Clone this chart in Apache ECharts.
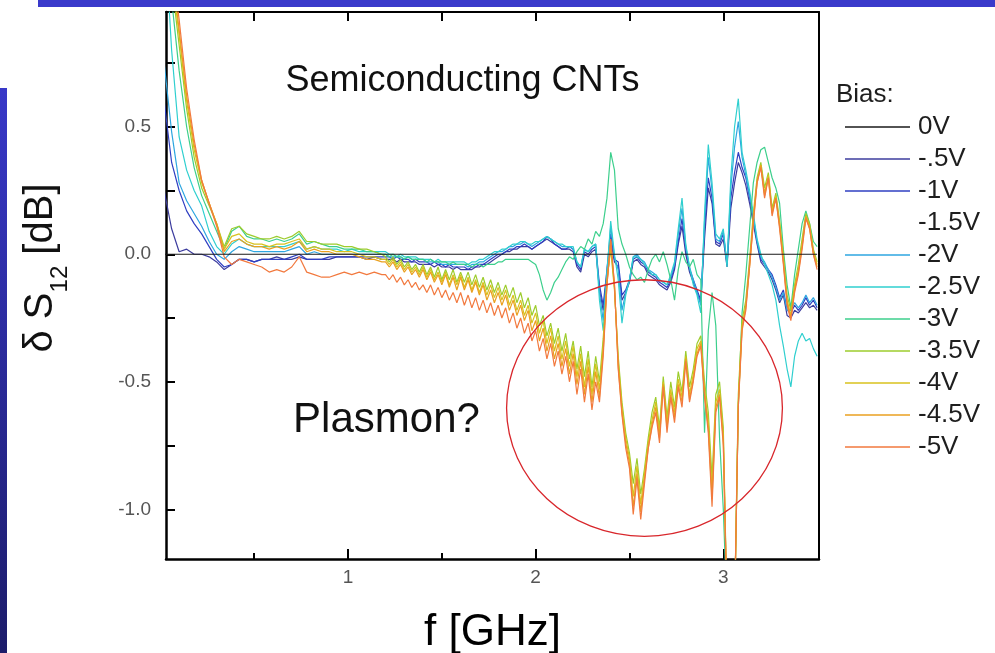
<!DOCTYPE html>
<html>
<head>
<meta charset="utf-8">
<script src="https://cdn.jsdelivr.net/npm/echarts@6/dist/echarts.min.js"></script>
<style>
  html, body { margin: 0; padding: 0; background: #ffffff; }
  #chart { width: 995px; height: 653px; }
</style>
</head>
<body>
<div id="chart"></div>
<script>
// Frequency grid in GHz: coarse below 1.2 GHz, finer above where the ripple is.
const freqLow = [0.02,0.06,0.10,0.14,0.18,0.22,0.26,0.30,0.34,0.38,0.42,0.46,0.50,0.54,0.58,
  0.62,0.66,0.70,0.74,0.78,0.82,0.86,0.90,0.94,0.98,1.02,1.06,1.10,1.14,1.18];
const freqHigh = [
  1.20,1.22,1.24,1.26,1.28,1.30,1.32,1.34,1.36,1.38,
  1.40,1.42,1.44,1.46,1.48,1.50,1.52,1.54,1.56,1.58,
  1.60,1.62,1.64,1.66,1.68,1.70,1.72,1.74,1.76,1.78,
  1.80,1.82,1.84,1.86,1.88,1.90,1.92,1.94,1.96,1.98,
  2.00,2.02,2.04,2.06,2.08,2.10,2.12,2.14,2.16,2.18,
  2.20,2.22,2.24,2.26,2.28,2.30,2.32,2.34,2.36,2.38,
  2.40,2.42,2.44,2.46,2.48,2.50,2.52,2.54,2.56,2.58,
  2.60,2.62,2.64,2.66,2.68,2.70,2.72,2.74,2.76,2.78,
  2.80,2.82,2.84,2.86,2.88,2.90,2.92,2.94,2.96,2.98,
  3.00,3.02,3.04,3.06,3.08,3.10,3.12,3.14,3.16,3.18,
  3.20,3.22,3.24,3.26,3.28,3.30,3.32,3.34,3.36,3.38,
  3.40,3.42,3.44,3.46,3.48,3.50];

// Reference bias: the difference is zero everywhere.
const freq0V = [0.02, 3.50];
const bias0V = [0, 0];

// delta S12 in dB for each gate bias (values on freqLow followed by freqHigh).
const biasM05 = [
  0.25,0.10,0.01,0.02,0.00,0.00,-0.01,-0.03,-0.06,-0.04,
  -0.02,-0.02,-0.03,-0.02,-0.02,-0.01,-0.02,-0.02,-0.01,-0.02,
  -0.02,-0.02,-0.02,-0.01,-0.01,-0.01,-0.01,-0.02,-0.01,-0.02,
  -0.02,-0.02,-0.02,-0.03,-0.02,-0.03,-0.03,-0.03,-0.03,-0.04,
  -0.04,-0.04,-0.04,-0.05,-0.04,-0.05,-0.05,-0.05,-0.06,-0.05,
  -0.06,-0.06,-0.06,-0.06,-0.05,-0.05,-0.04,-0.04,-0.03,-0.02,
  -0.01,0.00,0.01,0.01,0.02,0.02,0.03,0.03,0.03,0.02,
  0.03,0.04,0.05,0.06,0.05,0.04,0.03,0.02,0.02,0.02,
  0.01,-0.05,-0.07,0.00,-0.01,0.01,0.02,-0.14,-0.22,-0.08,
  0.05,-0.03,-0.05,-0.18,-0.15,-0.11,-0.03,-0.02,-0.04,-0.05,
  -0.08,-0.09,-0.10,-0.12,-0.13,-0.14,-0.11,-0.06,0.04,0.11,
  0.00,-0.07,-0.11,-0.15,-0.19,0.06,0.26,0.20,0.04,0.03,
  0.06,-0.05,0.18,0.28,0.36,0.32,0.27,0.20,0.12,0.04,
  -0.03,-0.05,-0.07,-0.10,-0.14,-0.19,-0.16,-0.24,-0.25,-0.22,
  -0.23,-0.21,-0.19,-0.21,-0.20,-0.22];

const biasM1 = [
  0.60,0.36,0.25,0.17,0.12,0.08,0.03,-0.02,-0.05,-0.04,
  -0.02,-0.02,-0.03,-0.02,-0.02,-0.02,-0.02,-0.01,0.00,-0.02,
  -0.02,-0.02,-0.01,-0.01,-0.01,-0.01,-0.01,-0.01,-0.01,-0.01,
  -0.01,-0.01,-0.02,-0.01,-0.02,-0.02,-0.02,-0.03,-0.02,-0.03,
  -0.03,-0.03,-0.04,-0.03,-0.04,-0.04,-0.05,-0.04,-0.05,-0.05,
  -0.05,-0.05,-0.06,-0.05,-0.05,-0.04,-0.04,-0.03,-0.02,-0.01,
  0.00,0.00,0.01,0.02,0.02,0.03,0.03,0.04,0.03,0.02,
  0.03,0.04,0.05,0.07,0.06,0.04,0.03,0.02,0.02,0.03,
  0.02,-0.04,-0.06,0.01,0.00,0.02,0.03,-0.12,-0.20,-0.06,
  0.08,-0.02,-0.03,-0.16,-0.14,-0.10,-0.02,-0.01,-0.03,-0.04,
  -0.07,-0.08,-0.09,-0.11,-0.12,-0.13,-0.10,-0.05,0.05,0.14,
  0.02,-0.06,-0.10,-0.14,-0.18,0.10,0.30,0.22,0.05,0.04,
  0.08,-0.04,0.22,0.32,0.40,0.34,0.30,0.22,0.14,0.05,
  -0.02,-0.04,-0.06,-0.08,-0.12,-0.17,-0.14,-0.22,-0.23,-0.20,
  -0.22,-0.20,-0.17,-0.20,-0.18,-0.21];

const biasM2 = [
  0.75,0.48,0.28,0.21,0.16,0.11,0.05,0.00,-0.02,0.01,
  0.03,0.02,0.01,0.01,0.01,0.01,0.01,0.02,0.03,0.00,
  0.01,0.00,0.00,0.00,0.00,0.00,0.00,0.00,0.00,0.00,
  0.00,-0.01,-0.01,-0.01,-0.01,-0.02,-0.01,-0.02,-0.02,-0.02,
  -0.02,-0.03,-0.03,-0.03,-0.03,-0.04,-0.04,-0.04,-0.04,-0.04,
  -0.04,-0.04,-0.05,-0.04,-0.04,-0.03,-0.03,-0.02,-0.01,0.00,
  0.01,0.01,0.02,0.03,0.03,0.04,0.04,0.05,0.04,0.03,
  0.04,0.05,0.06,0.07,0.06,0.05,0.04,0.03,0.03,0.03,
  0.02,-0.03,-0.05,0.02,0.01,0.03,0.04,-0.15,-0.26,-0.06,
  0.11,-0.01,-0.06,-0.22,-0.15,-0.10,-0.01,0.00,-0.02,-0.03,
  -0.06,-0.07,-0.08,-0.10,-0.11,-0.12,-0.09,-0.04,0.08,0.18,
  0.03,-0.05,-0.10,-0.15,-0.20,0.13,0.38,0.25,0.06,0.05,
  0.09,-0.04,0.26,0.42,0.52,0.38,0.31,0.23,0.15,0.05,
  -0.01,-0.03,-0.06,-0.09,-0.13,-0.18,-0.15,-0.22,-0.22,-0.19,
  -0.21,-0.19,-0.16,-0.19,-0.17,-0.20];

const biasM25 = [
  1.30,0.80,0.46,0.33,0.25,0.19,0.09,0.03,0.00,0.04,
  0.06,0.04,0.03,0.03,0.03,0.03,0.03,0.04,0.05,0.02,
  0.03,0.02,0.02,0.02,0.01,0.02,0.01,0.01,0.01,0.01,
  0.01,0.00,0.00,-0.01,0.00,-0.01,-0.01,-0.01,-0.01,-0.02,
  -0.02,-0.02,-0.02,-0.03,-0.02,-0.03,-0.03,-0.03,-0.03,-0.03,
  -0.03,-0.03,-0.04,-0.03,-0.03,-0.02,-0.02,-0.01,0.00,0.01,
  0.01,0.02,0.02,0.03,0.04,0.04,0.05,0.05,0.04,0.04,
  0.05,0.05,0.06,0.07,0.06,0.05,0.04,0.04,0.03,0.03,
  0.03,-0.03,-0.05,0.02,0.01,0.03,0.04,-0.18,-0.30,-0.08,
  0.13,0.00,-0.10,-0.27,-0.16,-0.10,-0.01,-0.01,-0.02,-0.04,
  -0.06,-0.08,-0.08,-0.10,-0.11,-0.12,-0.08,-0.03,0.10,0.22,
  0.04,-0.05,-0.12,-0.16,-0.23,0.16,0.43,0.28,0.08,0.06,
  0.10,-0.05,0.30,0.50,0.61,0.40,0.33,0.25,0.16,0.06,
  0.00,-0.04,-0.08,-0.12,-0.18,-0.28,-0.36,-0.45,-0.52,-0.40,
  -0.34,-0.31,-0.34,-0.33,-0.37,-0.40];

const biasM3 = [
  1.30,1.00,0.72,0.50,0.34,0.23,0.16,0.09,0.02,0.09,
  0.11,0.07,0.06,0.06,0.05,0.06,0.05,0.06,0.08,0.04,
  0.05,0.04,0.03,0.03,0.02,0.02,0.02,0.01,0.01,0.00,
  0.00,-0.01,0.00,-0.01,-0.01,-0.02,-0.01,-0.02,-0.02,-0.02,
  -0.02,-0.03,-0.02,-0.03,-0.03,-0.03,-0.03,-0.04,-0.03,-0.04,
  -0.04,-0.04,-0.04,-0.05,-0.04,-0.04,-0.05,-0.04,-0.04,-0.04,
  -0.03,-0.03,-0.02,-0.02,-0.02,-0.02,-0.02,-0.02,-0.02,-0.03,
  -0.04,-0.08,-0.14,-0.18,-0.15,-0.11,-0.09,-0.06,-0.03,-0.01,
  -0.02,0.01,0.03,0.02,0.06,0.04,0.09,0.07,0.12,0.22,
  0.40,0.33,0.10,0.04,0.00,-0.05,-0.08,-0.10,-0.09,-0.11,
  -0.06,-0.02,0.00,-0.03,0.01,-0.04,-0.10,-0.18,-0.06,0.01,
  -0.03,-0.05,-0.02,-0.08,-0.10,-0.70,-0.30,-0.15,-0.28,-0.72,
  -1.00,-1.40,-1.45,-1.40,-0.60,-0.23,-0.08,0.10,0.28,0.36,
  0.41,0.42,0.36,0.30,0.26,0.20,0.02,-0.12,-0.21,-0.08,
  0.02,0.12,0.17,0.12,0.05,0.03];

const biasM35 = [
  1.34,1.07,0.82,0.57,0.38,0.26,0.19,0.12,0.03,0.10,
  0.11,0.08,0.07,0.06,0.06,0.07,0.06,0.07,0.09,0.05,
  0.05,0.04,0.04,0.04,0.03,0.03,0.02,0.02,0.01,0.00,
  -0.01,-0.03,-0.01,-0.04,-0.02,-0.05,-0.03,-0.06,-0.04,-0.07,
  -0.04,-0.08,-0.05,-0.09,-0.05,-0.10,-0.06,-0.10,-0.06,-0.11,
  -0.07,-0.11,-0.07,-0.12,-0.08,-0.13,-0.09,-0.14,-0.10,-0.15,
  -0.11,-0.16,-0.12,-0.17,-0.13,-0.19,-0.15,-0.21,-0.17,-0.24,
  -0.20,-0.28,-0.24,-0.32,-0.27,-0.35,-0.29,-0.38,-0.31,-0.41,
  -0.34,-0.45,-0.36,-0.48,-0.38,-0.52,-0.40,-0.50,-0.33,-0.10,
  0.02,-0.14,-0.40,-0.58,-0.70,-0.78,-0.90,-0.80,-0.94,-0.84,
  -0.72,-0.62,-0.56,-0.68,-0.48,-0.64,-0.50,-0.60,-0.46,-0.54,
  -0.38,-0.52,-0.45,-0.35,-0.32,-0.50,-0.62,-0.88,-0.55,-0.50,
  -0.68,-1.40,-1.45,-1.40,-0.55,-0.26,-0.18,-0.02,0.16,0.30,
  0.36,0.26,0.32,0.18,0.24,0.13,0.00,-0.16,-0.22,-0.12,
  -0.04,0.06,0.16,0.12,0.02,-0.03];

const biasM4 = [
  1.36,1.10,0.86,0.60,0.41,0.28,0.20,0.12,0.02,0.07,
  0.08,0.05,0.04,0.04,0.03,0.04,0.04,0.05,0.06,0.02,
  0.03,0.02,0.02,0.01,0.01,0.01,0.00,-0.01,-0.01,-0.02,
  -0.02,-0.04,-0.02,-0.05,-0.03,-0.06,-0.04,-0.07,-0.05,-0.08,
  -0.05,-0.09,-0.06,-0.10,-0.07,-0.11,-0.07,-0.12,-0.08,-0.12,
  -0.08,-0.13,-0.09,-0.14,-0.10,-0.15,-0.11,-0.16,-0.12,-0.17,
  -0.13,-0.18,-0.14,-0.20,-0.16,-0.22,-0.18,-0.24,-0.20,-0.27,
  -0.23,-0.31,-0.26,-0.35,-0.29,-0.38,-0.32,-0.41,-0.34,-0.44,
  -0.36,-0.48,-0.39,-0.52,-0.41,-0.55,-0.43,-0.53,-0.36,-0.11,
  0.04,-0.13,-0.42,-0.60,-0.72,-0.80,-0.95,-0.83,-0.98,-0.86,
  -0.74,-0.65,-0.58,-0.70,-0.50,-0.66,-0.53,-0.62,-0.49,-0.56,
  -0.40,-0.55,-0.47,-0.37,-0.34,-0.53,-0.66,-0.93,-0.58,-0.53,
  -0.71,-1.40,-1.45,-1.40,-0.58,-0.28,-0.20,-0.04,0.14,0.29,
  0.35,0.24,0.31,0.17,0.23,0.12,-0.02,-0.18,-0.24,-0.13,
  -0.06,0.04,0.15,0.11,0.01,-0.04];

const biasM45 = [
  1.38,1.13,0.88,0.62,0.43,0.29,0.20,0.12,0.01,0.05,
  0.06,0.04,0.03,0.03,0.02,0.03,0.02,0.03,0.05,0.01,
  0.02,0.01,0.01,0.00,0.00,0.00,-0.01,-0.02,-0.02,-0.03,
  -0.03,-0.05,-0.03,-0.06,-0.04,-0.07,-0.05,-0.08,-0.06,-0.09,
  -0.06,-0.10,-0.07,-0.11,-0.08,-0.12,-0.08,-0.13,-0.09,-0.14,
  -0.09,-0.14,-0.10,-0.15,-0.11,-0.16,-0.12,-0.18,-0.14,-0.19,
  -0.15,-0.20,-0.16,-0.22,-0.18,-0.24,-0.20,-0.26,-0.22,-0.30,
  -0.26,-0.34,-0.29,-0.38,-0.32,-0.41,-0.35,-0.44,-0.37,-0.47,
  -0.39,-0.51,-0.42,-0.55,-0.44,-0.58,-0.46,-0.56,-0.38,-0.12,
  0.05,-0.12,-0.44,-0.62,-0.74,-0.82,-0.99,-0.86,-1.01,-0.88,
  -0.76,-0.67,-0.60,-0.72,-0.51,-0.68,-0.55,-0.64,-0.51,-0.58,
  -0.41,-0.57,-0.49,-0.39,-0.35,-0.55,-0.68,-0.96,-0.60,-0.55,
  -0.73,-1.40,-1.45,-1.40,-0.59,-0.29,-0.21,-0.05,0.13,0.28,
  0.35,0.23,0.30,0.16,0.22,0.11,-0.03,-0.19,-0.25,-0.14,
  -0.07,0.03,0.15,0.10,0.00,-0.05];

const biasM5 = [
  1.40,1.16,0.92,0.65,0.45,0.29,0.20,0.11,-0.01,-0.04,
  -0.02,-0.03,-0.04,-0.05,-0.07,-0.06,-0.07,-0.05,-0.01,-0.07,
  -0.08,-0.09,-0.09,-0.08,-0.07,-0.08,-0.07,-0.08,-0.07,-0.08,
  -0.08,-0.10,-0.08,-0.11,-0.09,-0.12,-0.10,-0.13,-0.11,-0.14,
  -0.12,-0.15,-0.12,-0.16,-0.13,-0.17,-0.14,-0.18,-0.15,-0.19,
  -0.15,-0.20,-0.16,-0.21,-0.17,-0.22,-0.18,-0.23,-0.19,-0.24,
  -0.20,-0.25,-0.21,-0.27,-0.23,-0.29,-0.25,-0.31,-0.27,-0.34,
  -0.30,-0.38,-0.33,-0.41,-0.35,-0.44,-0.38,-0.47,-0.40,-0.50,
  -0.42,-0.55,-0.45,-0.58,-0.47,-0.61,-0.50,-0.58,-0.40,-0.12,
  0.06,-0.12,-0.45,-0.63,-0.76,-0.84,-1.02,-0.88,-1.04,-0.90,
  -0.76,-0.68,-0.62,-0.74,-0.52,-0.70,-0.56,-0.66,-0.52,-0.60,
  -0.42,-0.58,-0.50,-0.40,-0.36,-0.56,-0.70,-0.99,-0.62,-0.56,
  -0.75,-1.40,-1.45,-1.40,-0.60,-0.30,-0.22,-0.05,0.12,0.28,
  0.34,0.22,0.30,0.15,0.22,0.10,-0.04,-0.20,-0.26,-0.15,
  -0.08,0.02,0.14,0.10,0.00,-0.06];

// Legend entries (the -1.5V trace was not recorded).
const biasLabels = ['0V', '-.5V', '-1V', '-1.5V', '-2V', '-2.5V', '-3V', '-3.5V', '-4V', '-4.5V', '-5V'];
const biasValues = [bias0V, biasM05, biasM1, [], biasM2, biasM25, biasM3, biasM35, biasM4, biasM45, biasM5];

// Axis ticks and labels.
const xMajorTicks = [1, 2, 3];
const xMinorTicks = [0.5, 1.5, 2.5];
const xTopTicks = [0.5, 1, 1.5, 2, 2.5, 3];
const yTickValues = [-1, -0.75, -0.5, -0.25, 0, 0.25, 0.5, 0.75];
const yLabelValues = [-1, -0.5, 0, 0.5];

// Styling.
const FONT = '"Liberation Sans", Arial, Helvetica, sans-serif';
const lineColors = ['#1a1a1a', '#3c3c9e', '#2f3fc2', 'rgba(0,0,0,0)', '#2ea6e0', '#2fcfcf',
  '#3ccf8c', '#9ccc2c', '#d8c21e', '#eaa020', '#f2793e'];
const X_MIN = 0.03, X_MAX = 3.51, Y_MIN = -1.195, Y_MAX = 0.95;

const chart = echarts.init(document.getElementById('chart'));

const series = biasLabels.map((name, i) => {
  const vals = biasValues[i];
  const xs = i === 0 ? freq0V : freqLow.concat(freqHigh);
  return {
    name: name,
    type: 'line',
    symbol: 'none',
    clip: true,
    animation: false,
    data: vals.map((v, k) => [xs[k], v]),
    lineStyle: { color: lineColors[i], width: i === 0 ? 1 : 1.2 },
    itemStyle: { color: lineColors[i] },
    z: i === 0 ? 3 : 2
  };
});

const axisBlack = { color: '#000', width: 2 };

chart.setOption({
  animation: false,
  backgroundColor: '#ffffff',
  grid: { left: 166, right: 176, top: 12, bottom: 94, outerBoundsMode: 'none', containLabel: false },
  xAxis: [
    {
      type: 'value', min: X_MIN, max: X_MAX, position: 'bottom',
      axisLine: { show: true, onZero: false, lineStyle: { color: '#000', width: 2.5 } },
      axisTick: { show: true, inside: true, length: 10, customValues: xMajorTicks, lineStyle: axisBlack },
      axisLabel: { show: true, customValues: xMajorTicks, formatter: v => String(v),
        color: '#555', fontSize: 19, fontFamily: FONT, margin: 9 },
      splitLine: { show: false },
      name: 'f [GHz]', nameLocation: 'middle', nameGap: 52,
      nameTextStyle: { fontSize: 44, color: '#000', fontFamily: FONT }
    },
    {
      type: 'value', min: X_MIN, max: X_MAX, position: 'bottom',
      axisLine: { show: false, onZero: false },
      axisTick: { show: true, inside: true, length: 6, customValues: xMinorTicks, lineStyle: axisBlack },
      axisLabel: { show: false },
      splitLine: { show: false }
    },
    {
      type: 'value', min: X_MIN, max: X_MAX, position: 'top',
      axisLine: { show: true, onZero: false, lineStyle: axisBlack },
      axisTick: { show: true, inside: true, length: 9, customValues: xTopTicks, lineStyle: axisBlack },
      axisLabel: { show: false },
      splitLine: { show: false }
    }
  ],
  yAxis: [
    {
      type: 'value', min: Y_MIN, max: Y_MAX, position: 'left',
      axisLine: { show: true, onZero: false, lineStyle: { color: '#000', width: 2.5 } },
      axisTick: { show: true, inside: true, length: 9, customValues: yTickValues, lineStyle: axisBlack },
      axisLabel: { show: true, customValues: yLabelValues, formatter: v => v.toFixed(1),
        color: '#555', fontSize: 19, fontFamily: FONT, margin: 15 },
      splitLine: { show: false }
    },
    {
      type: 'value', min: Y_MIN, max: Y_MAX, position: 'right',
      axisLine: { show: true, onZero: false, lineStyle: axisBlack },
      axisTick: { show: false },
      axisLabel: { show: false },
      splitLine: { show: false }
    }
  ],
  legend: {
    orient: 'vertical', left: 845, top: 114, padding: 0,
    itemWidth: 65, itemHeight: 20, itemGap: 6,
    data: biasLabels,
    selectedMode: false,
    // plain line sample, no marker
    icon: 'path://M0,0 L65,0 L65,1.6 L0,1.6 Z',
    symbolKeepAspect: true,
    textStyle: { fontSize: 26, color: '#1e1e1e', fontFamily: FONT, padding: [0, 0, 0, 3] }
  },
  series: series
});

// Annotation placement in data units (GHz, dB).
const titlePos = [1.61, 0.68];
const plasmonPos = [1.205, -0.652];
const ringCenter = [2.58, -0.603];
const ringRadii = [0.735, 0.503];

const toPx = p => chart.convertToPixel({ xAxisIndex: 0, yAxisIndex: 0 }, p);
const c = toPx(ringCenter);
const edge = toPx([ringCenter[0] + ringRadii[0], ringCenter[1] + ringRadii[1]]);
const tp = toPx(titlePos);
const pp = toPx(plasmonPos);

chart.setOption({
  graphic: [
    { type: 'rect', left: 38, top: 0, shape: { width: 957, height: 7 }, style: { fill: '#3a3acb' }, silent: true },
    {
      type: 'rect', left: 0, top: 88, shape: { width: 7, height: 565 }, silent: true,
      style: { fill: new echarts.graphic.LinearGradient(0, 0, 0, 1, [
        { offset: 0, color: '#3838c8' }, { offset: 1, color: '#1c1c6a' }]) }
    },
    {
      type: 'text', x: 836, y: 95, silent: true,
      style: { text: 'Bias:', fontSize: 26, fontFamily: FONT, fill: '#1e1e1e', verticalAlign: 'middle' }
    },
    {
      type: 'text', x: 41, y: 268, rotation: Math.PI / 2, silent: true,
      style: {
        text: '{m|δ S}{s|12}{m| [dB]}',
        align: 'center', verticalAlign: 'middle',
        rich: {
          m: { fontSize: 40, fontFamily: FONT, fill: '#111', lineHeight: 40, verticalAlign: 'top' },
          s: { fontSize: 24, fontFamily: FONT, fill: '#111', lineHeight: 24, verticalAlign: 'top', padding: [27, 0, 0, 0] }
        }
      }
    },
    {
      type: 'text', x: tp[0], y: tp[1], silent: true,
      style: { text: 'Semiconducting CNTs', fontSize: 36, fontFamily: FONT, fill: '#111',
        align: 'center', verticalAlign: 'middle' }
    },
    {
      type: 'text', x: pp[0], y: pp[1], silent: true,
      style: { text: 'Plasmon?', fontSize: 42, fontFamily: FONT, fill: '#111',
        align: 'center', verticalAlign: 'middle' }
    },
    {
      type: 'ellipse', silent: true, z: 10,
      shape: { cx: c[0], cy: c[1], rx: edge[0] - c[0], ry: c[1] - edge[1] },
      style: { fill: 'none', stroke: '#d8262b', lineWidth: 1.3 }
    }
  ]
});
</script>
</body>
</html>
